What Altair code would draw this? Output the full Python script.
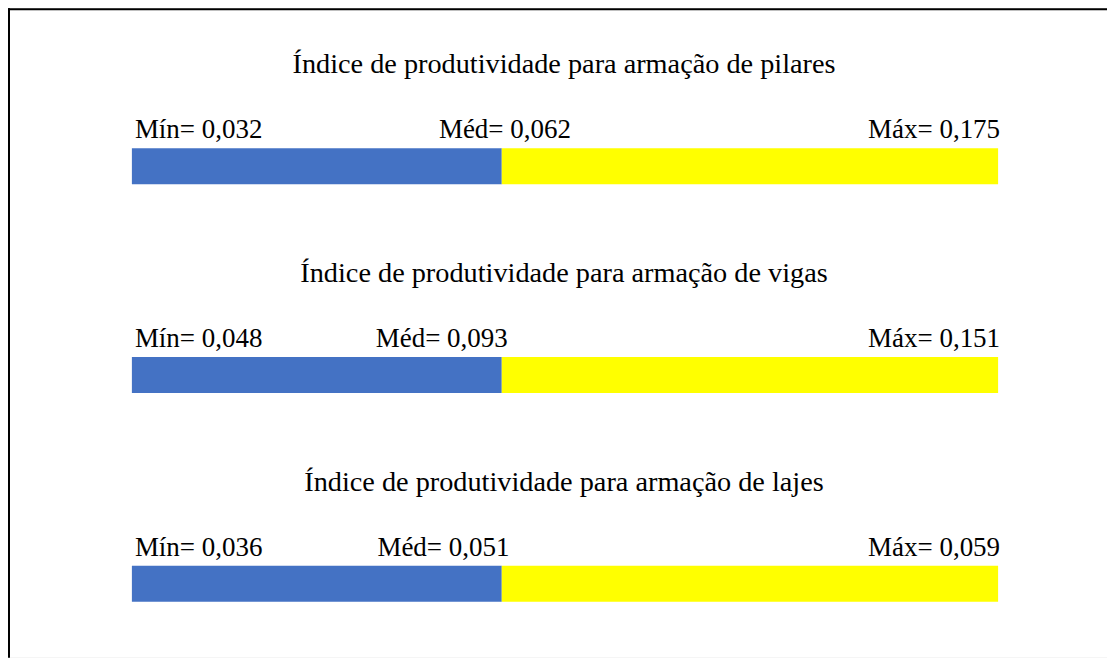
import altair as alt
import pandas as pd

# ---- data ----
titles = [
    "Índice de produtividade para armação de pilares",
    "Índice de produtividade para armação de vigas",
    "Índice de produtividade para armação de lajes",
]
rows = [0, 1, 2]
min_vals = [0.032, 0.048, 0.036]
med_vals = [0.062, 0.093, 0.051]
max_vals = [0.175, 0.151, 0.059]
# share of each bar drawn in blue (rest yellow), as a fraction of bar length
blue_share = [0.427, 0.427, 0.427]
# where the "Méd" label starts along the bar (fraction of bar length)
med_label_at = [0.351, 0.278, 0.280]

parts = ["baixo", "alto"]
part_colors = ["#4472C4", "#FFFF00"]


def fmt(v):
    return f"{v:.3f}".replace(".", ",")


seg = pd.DataFrame({
    "row": rows + rows,
    "start": [0.0] * 3 + blue_share,
    "end": blue_share + [1.0] * 3,
    "part": [parts[0]] * 3 + [parts[1]] * 3,
})

left_lab = pd.DataFrame({
    "row": rows + rows,
    "pos": [0.0] * 3 + med_label_at,
    "txt": [f"Mín= {fmt(v)}" for v in min_vals] + [f"Méd= {fmt(v)}" for v in med_vals],
})
right_lab = pd.DataFrame({
    "row": rows,
    "pos": [1.0] * 3,
    "txt": [f"Máx= {fmt(v)}" for v in max_vals],
})
title_df = pd.DataFrame({"row": rows, "pos": [0.5] * 3, "txt": titles})

W, H = 1100, 650
FONT = "Times New Roman, Liberation Serif, serif"

xs = alt.Scale(domain=[0, 1], range=[124, 991], padding=0)
ys = alt.Scale(domain=[0, 2], range=[158, 576], padding=0)

bars = alt.Chart(seg).mark_bar(orient="horizontal", size=36).encode(
    x=alt.X("start:Q", scale=xs, axis=None),
    x2="end:Q",
    y=alt.Y("row:Q", scale=ys, axis=None),
    color=alt.Color("part:N", scale=alt.Scale(domain=parts, range=part_colors), legend=None),
)

ltext = alt.Chart(left_lab).mark_text(
    align="left", baseline="alphabetic", dx=3, dy=-28, font=FONT, fontSize=27, color="black"
).encode(
    x=alt.X("pos:Q", scale=xs, axis=None),
    y=alt.Y("row:Q", scale=ys, axis=None),
    text="txt:N",
)

rtext = alt.Chart(right_lab).mark_text(
    align="right", baseline="alphabetic", dx=2, dy=-28, font=FONT, fontSize=27, color="black"
).encode(
    x=alt.X("pos:Q", scale=xs, axis=None),
    y=alt.Y("row:Q", scale=ys, axis=None),
    text="txt:N",
)

ttext = alt.Chart(title_df).mark_text(
    align="center", baseline="alphabetic", dx=-1, dy=-93, font=FONT, fontSize=28.3, color="black"
).encode(
    x=alt.X("pos:Q", scale=xs, axis=None),
    y=alt.Y("row:Q", scale=ys, axis=None),
    text="txt:N",
)

one = pd.DataFrame({"a": [0]})
left_border = alt.Chart(one).mark_rule(color="black", strokeWidth=2).encode(
    x=alt.value(1), y=alt.value(0), y2=alt.value(H)
)
top_border = alt.Chart(one).mark_rule(color="black", strokeWidth=2).encode(
    x=alt.value(0), x2=alt.value(W), y=alt.value(1)
)

chart = alt.layer(bars, ltext, rtext, ttext, left_border, top_border).properties(
    width=W, height=H, padding=0, autosize=alt.AutoSizeParams(type="none")
).configure_view(strokeWidth=0).configure(background="white")

chart.save("out.html", embed_options={"renderer": "svg", "actions": False})
